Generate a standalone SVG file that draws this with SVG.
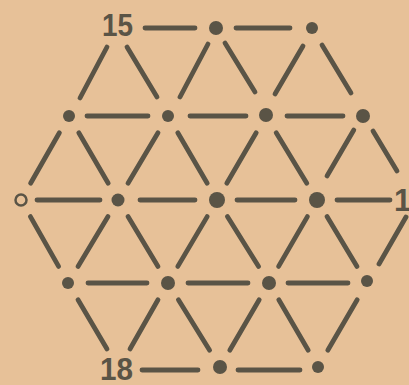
<svg xmlns="http://www.w3.org/2000/svg" width="409" height="385" viewBox="0 0 409 385">
<style>
.e{stroke:#5a5446;stroke-width:4.8;stroke-linecap:round;fill:none}
.d{fill:#5a5446}
.h{fill:none;stroke:#5a5446;stroke-width:2.5}
.t{font-family:"Liberation Sans",Arial,sans-serif;font-size:31px;font-weight:bold;fill:#5a5446}
</style>
<rect width="409" height="385" fill="#e7c198"/>
<g id="connectors" class="e">
<line x1="145" y1="28" x2="195" y2="28"/>
<line x1="236" y1="28" x2="290" y2="28"/>
<line x1="87" y1="116" x2="148" y2="116"/>
<line x1="190" y1="116" x2="246" y2="116"/>
<line x1="287" y1="116" x2="343" y2="116"/>
<line x1="37" y1="200" x2="100" y2="200"/>
<line x1="140" y1="200" x2="195" y2="200"/>
<line x1="237" y1="200" x2="295" y2="200"/>
<line x1="337" y1="200" x2="390" y2="200"/>
<line x1="88" y1="283" x2="147" y2="283"/>
<line x1="188" y1="283" x2="248" y2="283"/>
<line x1="288" y1="283" x2="348" y2="283"/>
<line x1="142" y1="370" x2="198" y2="370"/>
<line x1="238" y1="370" x2="300" y2="370"/>
<line x1="107" y1="47" x2="80" y2="98"/>
<line x1="127" y1="47" x2="157" y2="97"/>
<line x1="208" y1="44" x2="180" y2="97"/>
<line x1="225" y1="43" x2="255" y2="92"/>
<line x1="303" y1="46" x2="275" y2="94"/>
<line x1="322" y1="45" x2="351" y2="93"/>
<line x1="59.4" y1="132.8" x2="30.6" y2="183.2"/>
<line x1="78.8" y1="132.8" x2="108.2" y2="183.2"/>
<line x1="158" y1="132.8" x2="128" y2="183.2"/>
<line x1="177.8" y1="132.8" x2="207.2" y2="183.2"/>
<line x1="256.2" y1="132.8" x2="226.8" y2="183.2"/>
<line x1="276.2" y1="132.8" x2="306.8" y2="183.2"/>
<line x1="353.8" y1="130" x2="327" y2="176"/>
<line x1="373" y1="131" x2="397" y2="171"/>
<line x1="30.4" y1="216.6" x2="58.6" y2="266.4"/>
<line x1="108" y1="216.6" x2="78" y2="266.4"/>
<line x1="128" y1="216.6" x2="158" y2="266.4"/>
<line x1="207.2" y1="216.6" x2="177.8" y2="266.4"/>
<line x1="227.4" y1="216.6" x2="258.6" y2="266.4"/>
<line x1="307.4" y1="216.6" x2="278.6" y2="266.4"/>
<line x1="327" y1="216.6" x2="357" y2="266.4"/>
<line x1="406" y1="217" x2="379" y2="264"/>
<line x1="78" y1="299.8" x2="107" y2="349"/>
<line x1="158" y1="299.8" x2="130" y2="349"/>
<line x1="178.4" y1="299.8" x2="209.6" y2="350.2"/>
<line x1="259.2" y1="299.8" x2="229.8" y2="350.2"/>
<line x1="278.8" y1="299.8" x2="308.2" y2="350.2"/>
<line x1="357.2" y1="299.8" x2="327.8" y2="350.2"/>
</g>
<g id="n15"><text class="t" x="102" y="36" textLength="31" lengthAdjust="spacingAndGlyphs">15</text></g>
<g id="a2"><circle class="d" cx="216" cy="28" r="7"/></g>
<g id="a3"><circle class="d" cx="312" cy="28" r="6"/></g>
<g id="b1"><circle class="d" cx="69" cy="116" r="6"/></g>
<g id="b2"><circle class="d" cx="168" cy="116" r="6"/></g>
<g id="b3"><circle class="d" cx="266" cy="115" r="7"/></g>
<g id="b4"><circle class="d" cx="363" cy="116" r="7"/></g>
<g id="c1"><circle class="h" cx="21" cy="200" r="5.5"/></g>
<g id="c2"><circle class="d" cx="118" cy="200" r="6.5"/></g>
<g id="c3"><circle class="d" cx="217" cy="200" r="8"/></g>
<g id="c4"><circle class="d" cx="317" cy="200" r="8"/></g>
<g id="n1"><text class="t" x="394" y="211">1</text></g>
<g id="d1"><circle class="d" cx="68" cy="283" r="6"/></g>
<g id="d2"><circle class="d" cx="168" cy="283" r="7"/></g>
<g id="d3"><circle class="d" cx="269" cy="283" r="7"/></g>
<g id="d4"><circle class="d" cx="367" cy="281" r="6"/></g>
<g id="n18"><text class="t" x="100" y="380" textLength="33" lengthAdjust="spacingAndGlyphs">18</text></g>
<g id="e2"><circle class="d" cx="220" cy="367" r="7"/></g>
<g id="e3"><circle class="d" cx="318" cy="367" r="6"/></g>
</svg>
